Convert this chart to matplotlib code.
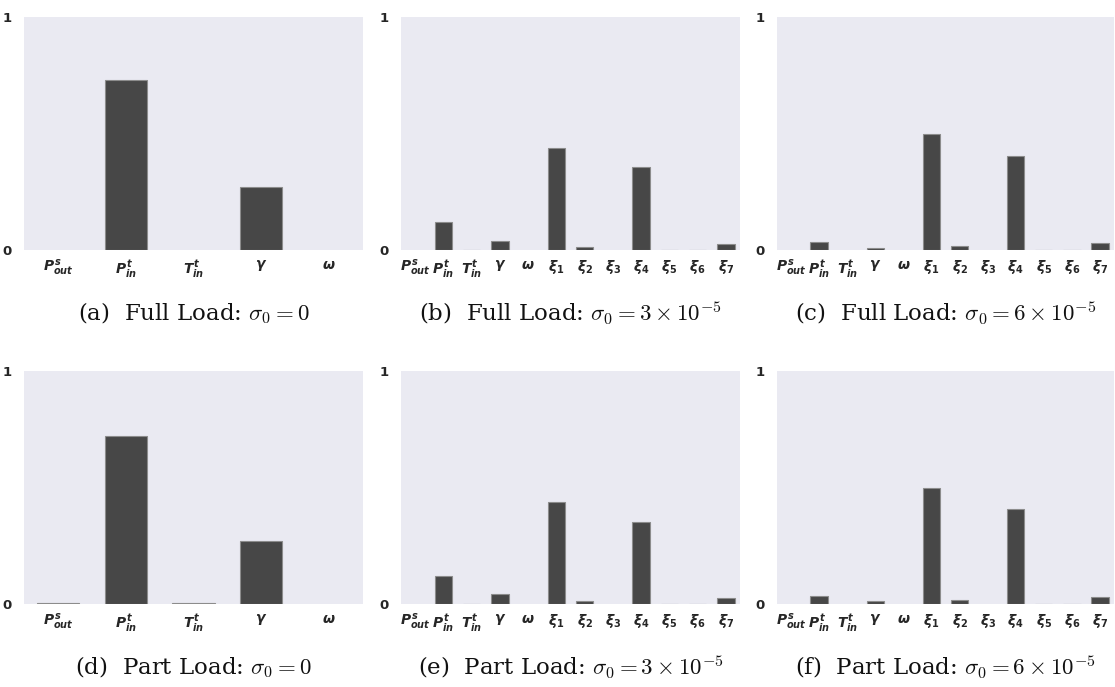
import numpy as np
import matplotlib
matplotlib.use('Agg')
import matplotlib.pyplot as plt

# sensitivity indices
params_5 = [r'$P^s_{out}$', r'$P^t_{in}$', r'$T^t_{in}$', r'$\gamma$', r'$\omega$']
params_12 = params_5 + [r'$\xi_%d$' % i for i in range(1, 8)]

full_s0 = [0.0, 0.73, 0.0, 0.27, 0.0]
full_s3 = [0.0, 0.121, 0.002, 0.040, 0.0, 0.436, 0.014, 0.0, 0.357, 0.002, 0.001, 0.026]
full_s6 = [0.0, 0.033, 0.0, 0.010, 0.0, 0.496, 0.017, 0.0, 0.405, 0.002, 0.001, 0.031]
part_s0 = [0.003, 0.722, 0.004, 0.269, 0.0]
part_s3 = [0.0, 0.121, 0.002, 0.044, 0.0, 0.436, 0.014, 0.0, 0.352, 0.002, 0.001, 0.027]
part_s6 = [0.0, 0.034, 0.0, 0.013, 0.0, 0.496, 0.017, 0.0, 0.408, 0.002, 0.001, 0.031]

captions = [r'(a)  Full Load: $\sigma_0 = 0$',
            r'(b)  Full Load: $\sigma_0 = 3\times10^{-5}$',
            r'(c)  Full Load: $\sigma_0 = 6\times10^{-5}$',
            r'(d)  Part Load: $\sigma_0 = 0$',
            r'(e)  Part Load: $\sigma_0 = 3\times10^{-5}$',
            r'(f)  Part Load: $\sigma_0 = 6\times10^{-5}$']

# bold italic sans for the tick labels
plt.rcParams['mathtext.fontset'] = 'custom'
plt.rcParams['mathtext.it'] = 'DejaVu Sans:italic:bold'
plt.rcParams['mathtext.rm'] = 'DejaVu Sans:bold'
plt.rcParams['mathtext.bf'] = 'DejaVu Sans:bold'

W, H = 1115, 687
fig = plt.figure(figsize=(W / 100, H / 100), dpi=100)

# axes boxes in pixels: left, right, top, bottom
cols = [(24, 363), (401, 740), (777, 1114)]
rows = [(17, 250), (371, 604)]

panels = [(params_5, full_s0), (params_12, full_s3), (params_12, full_s6),
          (params_5, part_s0), (params_12, part_s3), (params_12, part_s6)]

for k, (labels, vals) in enumerate(panels):
    r, c = divmod(k, 3)
    l, rr = cols[c]
    t, b = rows[r]
    ax = fig.add_axes([l / W, 1 - b / H, (rr - l) / W, (b - t) / H])
    ax.set_facecolor('#eaeaf2')
    x = np.arange(len(vals))
    edges = ['#8c8c8c' if v > 0 else 'none' for v in vals]
    ax.bar(x, vals, width=0.62, color='#474747', edgecolor=edges, linewidth=0.8)
    ax.set_xlim(-0.5, len(vals) - 0.5)
    ax.set_ylim(0, 1)
    ax.set_yticks([0, 1])
    ax.set_yticklabels(['0', '1'], fontsize=9.5, fontweight='bold', color='#262626')
    ax.set_xticks(x)
    ax.set_xticklabels(labels, fontsize=10, color='#262626')
    ax.tick_params(length=0, pad=6)
    ax.tick_params(axis='y', pad=9)
    for s in ax.spines.values():
        s.set_visible(False)
    cap_y = 313 if r == 0 else 667
    fig.text((l + rr) / 2 / W, 1 - cap_y / H, captions[k], ha='center', va='center',
             fontsize=16.5, family='DejaVu Serif', math_fontfamily='cm', color='#111111')

fig.savefig('out.png', dpi=100)
